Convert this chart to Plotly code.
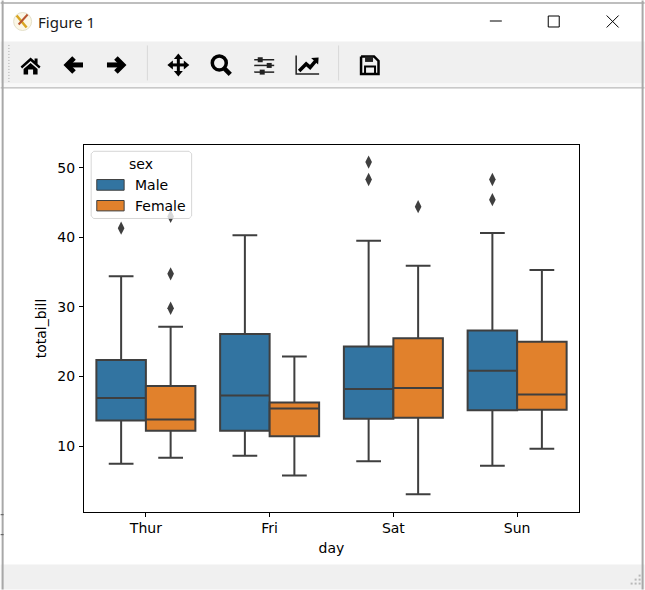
import plotly.graph_objects as go

# ---- data ----
days = ["Thur", "Fri", "Sat", "Sun"]
male_q1 = [13.66, 12.2, 13.9, 15.15]
male_median = [16.9, 17.25, 18.2, 20.8]
male_q3 = [22.37, 26.1, 24.3, 26.6]
male_low = [7.45, 8.6, 7.8, 7.15]
male_high = [34.4, 40.3, 39.5, 40.6]
male_outliers = [[41.3], [], [48.3, 50.8], [45.4, 48.3]]
female_q1 = [12.2, 11.4, 14.05, 15.2]
female_median = [13.8, 15.4, 18.35, 17.4]
female_q3 = [18.64, 16.25, 25.5, 25.0]
female_low = [8.3, 5.77, 3.05, 9.6]
female_high = [27.15, 22.85, 35.9, 35.3]
female_outliers = [[29.8, 34.75, 43.0], [], [44.4], []]
y_ticks = [10, 20, 30, 40, 50]

BLUE = "#3274a1"
ORANGE = "#e1812c"
DARK = "#3f3f3f"
FONT = "DejaVu Sans"
W, H = 645, 590
L, R, T, B = 83.5, 579.3, 144.7, 512.3


def X(px):
    return (px - L) / (R - L)


def Y(py):
    return (B - py) / (B - T)


def path(points, close=False):
    s = "M" + " L".join(f"{X(a):.5f},{Y(b):.5f}" for a, b in points)
    return s + (" Z" if close else "")


shapes, notes = [], []


def rect(x0, y0, x1, y1, fill=None, line=None, lw=1, layer="below"):
    shapes.append(dict(type="rect", xref="paper", yref="paper", x0=X(x0), x1=X(x1), y0=Y(y0), y1=Y(y1),
                       fillcolor=fill or "rgba(0,0,0,0)", line=dict(color=line or "rgba(0,0,0,0)", width=lw if line else 0), layer=layer))


def poly(points, fill="black", layer="below"):
    shapes.append(dict(type="path", xref="paper", yref="paper", path=path(points, True), fillcolor=fill, line=dict(width=0), layer=layer))


def stroke(points, color="black", lw=1, layer="below"):
    shapes.append(dict(type="path", xref="paper", yref="paper", path=path(points), line=dict(color=color, width=lw), layer=layer))


def circle(cx, cy, r, fill=None, line=None, lw=1):
    shapes.append(dict(type="circle", xref="paper", yref="paper", x0=X(cx - r), x1=X(cx + r), y0=Y(cy + r), y1=Y(cy - r),
                       fillcolor=fill or "rgba(0,0,0,0)", line=dict(color=line or "rgba(0,0,0,0)", width=lw if line else 0), layer="below"))


def text(s, px, py, size=14, anchor="left", family=FONT, color="black"):
    notes.append(dict(text=s, xref="paper", yref="paper", x=X(px), y=Y(py), xanchor=anchor, yanchor="middle",
                      showarrow=False, font=dict(family=family, size=size, color=color)))


# window chrome
rect(0, 41, W, 83, fill="#f0f0f0")
rect(0, 83, W, 87, fill="#f8f8f8")
rect(0, 565, W, H, fill="#f0f0f0")
stroke([(0, 2.5), (W, 2.5)], "#a8a8a8", 1.5)
stroke([(0, 87.5), (W, 87.5)], "#a8a8a8", 1)
stroke([(2, 0), (2, H)], "#a8a8a8", 2)
stroke([(643, 0), (643, H)], "#a8a8a8", 2)
stroke([(147, 45), (147, 80)], "#d8d8d8", 1)
stroke([(338.5, 45), (338.5, 80)], "#d8d8d8", 1)
for gy in range(45, 82, 3):
    stroke([(7.5, gy), (9, gy)], "#c0c0c0", 1)
for gx, gy in [(640, 576), (636, 580), (640, 580), (632, 584), (636, 584), (640, 584)]:
    rect(gx - 1, gy - 1, gx + 1, gy + 1, fill="#b8b8b8")
stroke([(0, 515), (3, 515)], "#555555", 1)
stroke([(0, 535), (3, 535)], "#555555", 1)

# title bar
circle(22, 21, 9, fill="#fbf7e6", line="#e4e0c8", lw=1)
stroke([(16, 15), (26, 27)], "#d9a520", 2.5)
stroke([(27, 14), (18, 24)], "#b8552f", 2)
text("Figure 1", 35, 21, size=15, family="Noto Sans", color="#1a1a1a")
stroke([(490, 20.5), (502, 20.5)], "black", 1)
rect(548.5, 15.5, 559.5, 26.5, line="black", lw=1)
stroke([(607, 15), (619, 27)], "black", 1)
stroke([(619, 15), (607, 27)], "black", 1)

# toolbar icons
poly([(20, 66), (30, 57), (34, 60.5), (34, 58), (37, 58), (37, 63.5), (40, 66), (38.5, 68), (30, 60.5), (21.5, 68)])
poly([(23, 68.5), (30, 62.5), (37, 68.5), (37, 74), (32.5, 74), (32.5, 69), (27.5, 69), (27.5, 74), (23, 74)])
stroke([(82.5, 64.5), (68, 64.5)], lw=5)
stroke([(73.5, 57.5), (66.5, 64.5), (73.5, 71.5)], lw=5)
stroke([(106.5, 64.5), (121, 64.5)], lw=5)
stroke([(115.5, 57.5), (122.5, 64.5), (115.5, 71.5)], lw=5)
stroke([(170, 64.5), (186, 64.5)], lw=3)
stroke([(178, 56.5), (178, 72.5)], lw=3)
poly([(178, 53), (182.5, 58.5), (173.5, 58.5)])
poly([(178, 76), (182.5, 70.5), (173.5, 70.5)])
poly([(167, 64.5), (172.5, 60), (172.5, 69)])
poly([(189, 64.5), (183.5, 60), (183.5, 69)])
circle(219, 62.5, 7, line="black", lw=3.5)
stroke([(224, 68), (230, 74)], lw=4.5)
for ly, kx in [(59.3, 260), (65, 269), (71.7, 262)]:
    stroke([(254, ly), (274, ly)], "#222222", 1.5)
    rect(kx - 2.5, ly - 2.5, kx + 2.5, ly + 2.5, fill="#222222")
stroke([(296, 55), (296, 73.5), (319, 73.5)], "#222222", 1.5)
stroke([(299, 70.5), (306, 63.5), (310, 67), (316, 60)], lw=3.5)
poly([(311, 57.5), (318.5, 57), (318, 64)])
stroke([(361, 56), (374, 56), (378.5, 60.5), (378.5, 73.5), (361, 73.5), (361, 56)], lw=2.5)
rect(365, 56, 373, 61.5, fill="#222222")
stroke([(365, 73), (365, 66), (375, 66), (375, 73)], lw=2)

# legend, drawn over the boxes
x0, x1, y0, y1, rad = 90.7, 191.3, 151, 218.3, 2.5
shapes.append(dict(type="path", xref="paper", yref="paper", layer="above", fillcolor="rgba(255,255,255,0.8)",
                   line=dict(color="rgba(204,204,204,0.8)", width=1),
                   path=path([(x0 + rad, y0), (x1 - rad, y0), (x1, y0 + rad), (x1, y1 - rad), (x1 - rad, y1),
                              (x0 + rad, y1), (x0, y1 - rad), (x0, y0 + rad)], True)))
rect(96.3, 179.3, 123.7, 190, fill=BLUE, line=DARK, lw=1, layer="above")
rect(96.3, 200.3, 123.7, 210.7, fill=ORANGE, line=DARK, lw=1, layer="above")
text("sex", 140.5, 164, anchor="center")
text("Male", 133, 184.5)
text("Female", 133, 205.5)


def box(name, q1, med, q3, low, high, outliers, color):
    return go.Box(name=name, x=days, y=outliers, q1=q1, median=med, q3=q3, lowerfence=low, upperfence=high,
                  fillcolor=color, whiskerwidth=0.5, boxpoints="outliers", pointpos=0, jitter=0,
                  line=dict(color=DARK, width=2),
                  marker=dict(symbol="diamond-tall", size=9.5, color=DARK, line=dict(width=0)),
                  showlegend=False)


fig = go.Figure([
    box("Male", male_q1, male_median, male_q3, male_low, male_high, male_outliers, BLUE),
    box("Female", female_q1, female_median, female_q3, female_low, female_high, female_outliers, ORANGE),
])
axis = dict(showline=True, mirror=True, linecolor="black", linewidth=1, ticks="outside", ticklen=4, tickwidth=1,
            tickcolor="black", showgrid=False, zeroline=False, tickfont=dict(family=FONT, size=14, color="black"))
fig.update_xaxes(axis, type="category", categoryorder="array", categoryarray=days, range=[-0.5, 3.5],
                 ticklabelstandoff=-1,
                 title=dict(text="day", font=dict(family=FONT, size=14, color="black"), standoff=8))
fig.update_yaxes(axis, range=[0.516, 53.26], tickvals=y_ticks, ticklabelstandoff=1,
                 title=dict(text="total_bill", font=dict(family=FONT, size=14, color="black"), standoff=7))
fig.update_layout(width=W, height=H, autosize=False, margin=dict(l=L, r=W - R, t=T, b=H - B, pad=0, autoexpand=False),
                  paper_bgcolor="white", plot_bgcolor="white", boxmode="group", boxgap=0.2, boxgroupgap=0,
                  shapes=shapes, annotations=notes, showlegend=False)
fig.write_html("out.html", config=dict(displayModeBar=False),
               post_script="document.body.style.margin='0';")
